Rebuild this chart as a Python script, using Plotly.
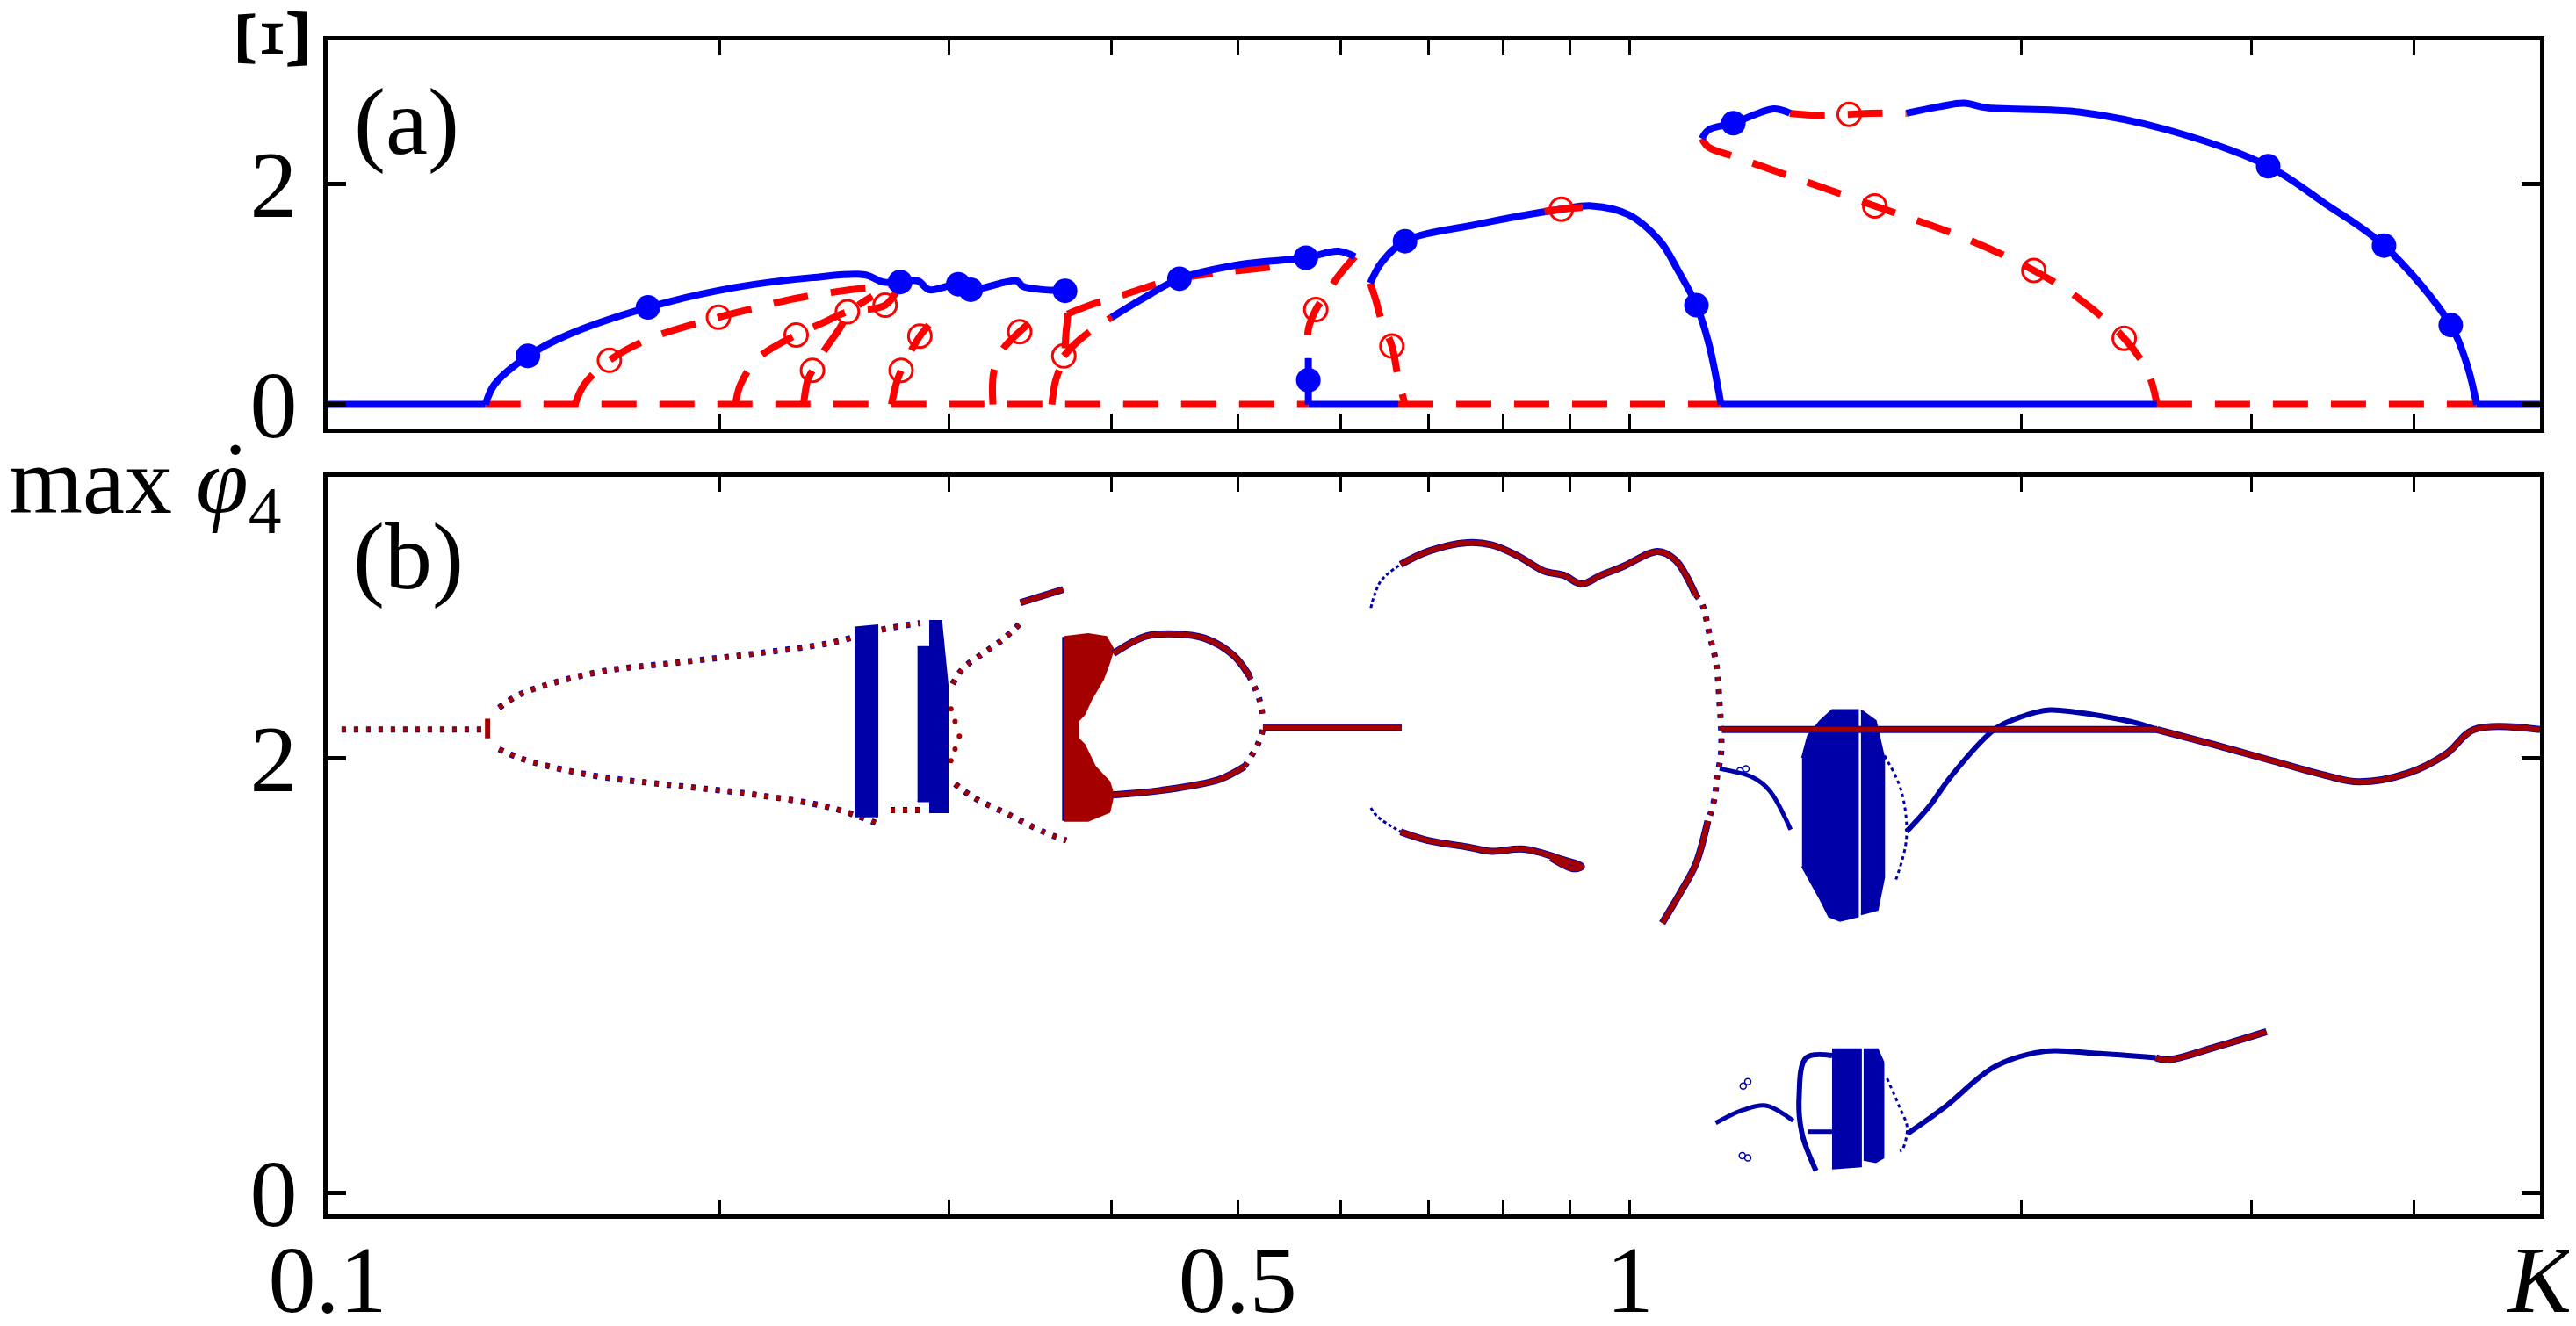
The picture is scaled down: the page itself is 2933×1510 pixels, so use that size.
import plotly.graph_objects as go

BLUE = '#0000ff'; RED = '#ff0000'
DB = '#0000a8'; DR = '#a50000'
FONT = 'Liberation Serif'

# ================= Panel (a): Xi versus K =================
a_stable_base = [[0.1, 0.1322], [0.5664, 0.664], [1.175, 2.54], [4.47, 5.0]]
a_unstable_base = [[0.1322, 0.5664], [0.664, 1.175], [2.54, 4.47]]

# stable branches (blue solid)
a_s1_K = [0.1322, 0.1343, 0.1425, 0.1528, 0.1762, 0.2055, 0.2356, 0.2586, 0.2669, 0.2752]
a_s1_X = [0, 0.18, 0.44, 0.63, 0.88, 1.06, 1.15, 1.175, 1.11, 1.11]
a_s2_K = [0.2752, 0.284, 0.2897, 0.305, 0.3118, 0.3383, 0.342, 0.3673]
a_s2_X = [1.11, 1.12, 1.04, 1.09, 1.04, 1.12, 1.07, 1.03]
a_s3_K = [0.400, 0.4255, 0.451, 0.503, 0.564, 0.597, 0.615]
a_s3_X = [0.79, 0.98, 1.14, 1.27, 1.33, 1.39, 1.34]
a_s4_K = [0.5664, 0.5664]
a_s4_X = [0.42, 0]
a_s5_K = [0.632, 0.645, 0.672, 0.761, 0.886, 0.935, 0.998, 1.055, 1.089, 1.125, 1.150, 1.175]
a_s5_X = [1.10, 1.29, 1.48, 1.63, 1.77, 1.80, 1.72, 1.48, 1.215, 0.90, 0.55, 0]
a_s6_K = [1.136, 1.15, 1.201, 1.290, 1.327]
a_s6_X = [2.41, 2.49, 2.55, 2.68, 2.64]
a_s7_K = [1.631, 1.73, 1.806, 1.88, 2.218, 2.586, 3.092, 3.41, 3.795, 4.27, 4.40, 4.47]
a_s7_X = [2.64, 2.70, 2.73, 2.69, 2.65, 2.49, 2.16, 1.83, 1.44, 0.72, 0.34, 0]

# unstable branches (red dashed)
a_u1_K = [0.1549, 0.1574, 0.1646, 0.177, 0.1996, 0.2123, 0.2285, 0.252, 0.265, 0.275]
a_u1_X = [0, 0.18, 0.40, 0.60, 0.79, 0.87, 0.96, 1.04, 1.07, 1.11]
a_u2_K = [0.2057, 0.2075, 0.2141, 0.229, 0.240, 0.2507, 0.268, 0.275]
a_u2_X = [0, 0.18, 0.42, 0.63, 0.74, 0.84, 0.90, 1.08]
a_u3_K = [0.2320, 0.2337, 0.2357, 0.241, 0.247, 0.252, 0.262]
a_u3_X = [0, 0.22, 0.31, 0.50, 0.68, 0.84, 0.98]
a_u4_K = [0.2710, 0.2735, 0.2757, 0.281, 0.285, 0.2896]
a_u4_X = [0, 0.20, 0.31, 0.50, 0.62, 0.72]
a_u5_K = [0.3243, 0.3247, 0.330, 0.340, 0.346]
a_u5_X = [0, 0.29, 0.50, 0.66, 0.74]
a_u6_K = [0.3599, 0.362, 0.3676, 0.369, 0.370, 0.3684]
a_u6_X = [0, 0.20, 0.44, 0.65, 0.82, 1.0]
a_u7_K = [0.3676, 0.375, 0.387, 0.400]
a_u7_X = [0.44, 0.55, 0.68, 0.79]
a_u8_K = [0.370, 0.385, 0.41, 0.442, 0.48, 0.525, 0.55]
a_u8_X = [0.82, 0.90, 1.00, 1.12, 1.19, 1.24, 1.28]
a_u9_K = [0.615, 0.597, 0.585, 0.574, 0.5664, 0.5664]
a_u9_X = [1.34, 1.16, 1.00, 0.86, 0.68, 0.42]
a_u10_K = [0.632, 0.638, 0.6454, 0.6566, 0.664, 0.672]
a_u10_X = [1.10, 0.95, 0.74, 0.53, 0.24, 0]
a_u11_K = [1.136, 1.15, 1.201, 1.327, 1.542, 1.806, 2.043, 2.218, 2.397, 2.50, 2.54]
a_u11_X = [2.41, 2.33, 2.25, 2.07, 1.80, 1.51, 1.215, 0.95, 0.60, 0.29, 0]
a_u12_K = [1.327, 1.40, 1.474, 1.53, 1.631]
a_u12_X = [2.64, 2.62, 2.63, 2.64, 2.64]
a_u13_K = [0.86, 0.886, 0.92]
a_u13_X = [1.75, 1.77, 1.785]

# bifurcation markers
a_hopf_K = [0.1425, 0.1762, 0.2752, 0.305, 0.3118, 0.3684, 0.451, 0.564, 0.5664, 0.672,
            1.125, 1.201, 3.092, 3.795, 4.27]
a_hopf_X = [0.44, 0.88, 1.11, 1.09, 1.04, 1.03, 1.14, 1.33, 0.22, 1.48,
            0.90, 2.55, 2.16, 1.44, 0.72]
a_uhopf_K = [0.1646, 0.1996, 0.229, 0.2357, 0.2507, 0.268, 0.2757, 0.285, 0.340, 0.3676,
             0.574, 0.6566, 0.886, 1.474, 1.542, 2.043, 2.397]
a_uhopf_X = [0.40, 0.79, 0.63, 0.31, 0.84, 0.90, 0.31, 0.62, 0.66, 0.44,
             0.86, 0.53, 1.77, 2.63, 1.80, 1.215, 0.60]

# ================= Panel (b): max phi_4 versus K =================
b_p1_K = [0.1025, 0.1327]; b_p1_P = [2.13, 2.13]
b_p1v_K = [0.1327, 0.1327]; b_p1v_P = [2.09, 2.18]
b_p2u_K = [0.1354, 0.1403, 0.1481, 0.1633, 0.1867, 0.2133, 0.2438, 0.2664, 0.2852]
b_p2u_P = [2.23, 2.29, 2.34, 2.40, 2.44, 2.48, 2.53, 2.59, 2.62]
b_p2l_K = [0.1354, 0.1403, 0.1481, 0.1633, 0.1867, 0.2133, 0.2438, 0.2664]
b_p2l_P = [2.04, 2.00, 1.96, 1.91, 1.87, 1.83, 1.77, 1.69]
b_p2s_K = [0.2706, 0.2852]; b_p2s_P = [1.76, 1.76]
b_ch1_K = [0.2539, 0.2644, 0.2644, 0.2539]; b_ch1_P = [2.60, 2.61, 1.73, 1.73]
b_ch2_K = [0.2838, 0.2902, 0.2902, 0.2960, 0.2994, 0.2994, 0.2902, 0.2902, 0.2838]
b_ch2_P = [2.51, 2.51, 2.63, 2.63, 2.33, 1.75, 1.75, 1.80, 1.80]
b_p3u_K = [0.302, 0.3074, 0.3186, 0.330, 0.3404]; b_p3u_P = [2.34, 2.41, 2.48, 2.545, 2.62]
b_p3l_K = [0.3033, 0.313, 0.3332, 0.3545, 0.3692]; b_p3l_P = [1.88, 1.82, 1.74, 1.66, 1.62]
b_p3m_K = [0.3011, 0.3033, 0.3056, 0.3033, 0.3011]; b_p3m_P = [2.225, 2.168, 2.10, 2.04, 1.987]
b_p3t_K = [0.3404, 0.3672]; b_p3t_P = [2.714, 2.775]
b_bt_K = [0.3679, 0.3837, 0.3963, 0.4013, 0.3985, 0.394, 0.386, 0.3813, 0.3770, 0.3770,
          0.3813, 0.3885, 0.3985, 0.4013, 0.3985, 0.3837, 0.3679]
b_bt_P = [2.557, 2.57, 2.557, 2.50, 2.44, 2.36, 2.27, 2.20, 2.17, 2.09,
          2.06, 1.96, 1.89, 1.83, 1.75, 1.71, 1.71]
b_lu_K = [0.4013, 0.4252, 0.4482, 0.4717, 0.4966, 0.5099]; b_lu_P = [2.48, 2.56, 2.57, 2.55, 2.47, 2.38]
b_lud_K = [0.5099, 0.5194, 0.5227]; b_lud_P = [2.38, 2.27, 2.18]
b_ll_K = [0.4013, 0.4365, 0.4836, 0.506]; b_ll_P = [1.83, 1.85, 1.90, 1.96]
b_lld_K = [0.506, 0.5178, 0.5227]; b_lld_P = [1.96, 2.06, 2.13]
b_pm_K = [0.5227, 0.668]; b_pm_P = [2.14, 2.14]
b_mub_K = [0.6326, 0.6367, 0.6450, 0.6668]; b_mub_P = [2.69, 2.75, 2.82, 2.89]
b_mu_K = [0.6668, 0.70, 0.7503, 0.7827, 0.82, 0.859, 0.8901, 0.9182, 0.95, 0.9876, 1.051, 1.084, 1.1235]
b_mu_P = [2.89, 2.95, 2.99, 2.98, 2.93, 2.86, 2.84, 2.80, 2.84, 2.88, 2.95, 2.91, 2.75]
b_md_K = [1.1235, 1.136, 1.153, 1.163, 1.168, 1.172, 1.175, 1.175, 1.166, 1.163, 1.153, 1.148]
b_md_P = [2.75, 2.71, 2.55, 2.46, 2.38, 2.25, 2.15, 2.02, 1.90, 1.83, 1.74, 1.71]
b_mt_K = [1.148, 1.1235, 1.096, 1.059]; b_mt_P = [1.71, 1.51, 1.39, 1.24]
b_mlb_K = [0.6326, 0.640, 0.6668]; b_mlb_P = [1.77, 1.73, 1.66]
b_ml_K = [0.6668, 0.70, 0.7503, 0.7827, 0.83, 0.8901, 0.9182, 0.905, 0.87]
b_ml_P = [1.66, 1.62, 1.59, 1.57, 1.58, 1.53, 1.50, 1.49, 1.54]
b_pr_K = [1.177, 2.54]; b_pr_P = [2.13, 2.13]
b_rc_K = [2.54, 2.813, 3.10, 3.42, 3.63, 3.96, 4.24, 4.45, 5.0]
b_rc_P = [2.13, 2.06, 1.99, 1.92, 1.89, 1.93, 2.02, 2.13, 2.13]
b_bu_K = [1.631, 1.70, 1.762, 1.905, 2.00, 2.101, 2.20, 2.317, 2.45, 2.54]
b_bu_P = [1.66, 1.78, 1.91, 2.13, 2.19, 2.22, 2.21, 2.19, 2.16, 2.13]
b_ba_K = [1.5687, 1.6159, 1.631, 1.601]; b_ba_P = [2.01, 1.85, 1.63, 1.44]
b_bl_K = [1.172, 1.243, 1.28, 1.329]; b_bl_P = [1.95, 1.91, 1.85, 1.67]
b_ub1_K = [1.356, 1.37, 1.40, 1.43, 1.497, 1.497, 1.45, 1.422, 1.40, 1.38, 1.356]
b_ub1_P = [2.00, 2.10, 2.17, 2.22, 2.22, 1.27, 1.25, 1.27, 1.35, 1.42, 1.50]
b_ub2_K = [1.505, 1.545, 1.568, 1.568, 1.55, 1.505]
b_ub2_P = [2.22, 2.17, 2.00, 1.45, 1.30, 1.28]
b_lb1_K = [1.43, 1.505, 1.505, 1.43]; b_lb1_P = [0.66, 0.66, 0.12, 0.11]
b_lb2_K = [1.512, 1.55, 1.566, 1.566, 1.545, 1.512]; b_lb2_P = [0.66, 0.66, 0.60, 0.16, 0.14, 0.15]
b_lbr_K = [1.43, 1.366, 1.349, 1.356, 1.39]; b_lbr_P = [0.63, 0.62, 0.44, 0.27, 0.10]
b_lbar_K = [1.37, 1.43]; b_lbar_P = [0.28, 0.28]
b_llc_K = [1.164, 1.222, 1.272, 1.335]; b_llc_P = [0.32, 0.38, 0.40, 0.33]
b_lra_K = [1.576, 1.612, 1.633, 1.62, 1.612]; b_lra_P = [0.525, 0.39, 0.30, 0.20, 0.19]
b_lrc_K = [1.633, 1.743, 1.908, 2.084, 2.277, 2.535]; b_lrc_P = [0.27, 0.39, 0.58, 0.65, 0.64, 0.62]
b_lrr_K = [2.535, 2.587, 2.82, 3.083]; b_lrr_P = [0.62, 0.61, 0.67, 0.74]
b_sc_K = [1.222, 1.232, 1.220, 1.232, 1.215, 1.228]; b_sc_P = [0.49, 0.51, 0.17, 0.16, 1.94, 1.95]

# ---- tick setup ----
x_tickvals = [0.1, 0.2, 0.3, 0.4, 0.5, 0.6, 0.7, 0.8, 0.9, 1, 2, 3, 4, 5]
x_ticktext = ['0.1', '', '', '', '0.5', '', '', '', '', '1', '', '', '', '<i>K</i>']
y_tickvals = [0, 2]

fig = go.Figure()


def add_line(xs, ys, color, width, panel, dash=None, shape='spline'):
    fig.add_trace(go.Scatter(x=xs, y=ys, mode='lines',
                             line=dict(color=color, width=width, dash=dash, shape=shape),
                             xaxis='x' if panel == 1 else 'x2',
                             yaxis='y' if panel == 1 else 'y2',
                             hoverinfo='skip'))


def add_fill(xs, ys, color, panel=2):
    fig.add_trace(go.Scatter(x=xs, y=ys, mode='lines', fill='toself', fillcolor=color,
                             line=dict(color=color, width=2),
                             xaxis='x' if panel == 1 else 'x2',
                             yaxis='y' if panel == 1 else 'y2', hoverinfo='skip'))


def add_markers(xs, ys, symbol, color, size, lw, panel):
    fig.add_trace(go.Scatter(x=xs, y=ys, mode='markers',
                             marker=dict(symbol=symbol, color=color, size=size,
                                         line=dict(color=color, width=lw)),
                             xaxis='x' if panel == 1 else 'x2',
                             yaxis='y' if panel == 1 else 'y2', hoverinfo='skip'))


# ----- panel (a) -----
DASH_A = '40px,26px'
WA = 8
for seg in a_unstable_base:
    add_line(seg, [0, 0], RED, WA, 1, DASH_A, 'linear')
for K, X in [(a_u1_K, a_u1_X), (a_u2_K, a_u2_X), (a_u3_K, a_u3_X), (a_u4_K, a_u4_X),
             (a_u5_K, a_u5_X), (a_u6_K, a_u6_X), (a_u7_K, a_u7_X), (a_u8_K, a_u8_X),
             (a_u9_K, a_u9_X), (a_u10_K, a_u10_X), (a_u11_K, a_u11_X), (a_u12_K, a_u12_X)]:
    add_line(K, X, RED, WA, 1, DASH_A)
for seg in a_stable_base:
    add_line(seg, [0, 0], BLUE, WA, 1, None, 'linear')
for K, X in [(a_s1_K, a_s1_X), (a_s2_K, a_s2_X), (a_s3_K, a_s3_X), (a_s4_K, a_s4_X),
             (a_s5_K, a_s5_X), (a_s6_K, a_s6_X), (a_s7_K, a_s7_X)]:
    add_line(K, X, BLUE, WA, 1)
add_line(a_u13_K, a_u13_X, RED, WA, 1)
add_markers(a_hopf_K, a_hopf_X, 'circle', BLUE, 28, 0, 1)
add_markers(a_uhopf_K, a_uhopf_X, 'circle-open', RED, 26, 3, 1)

# ----- panel (b) -----
DOT = '5px,9px'
WD = 5
WL = 6


def dotted(K, P):
    add_line(K, P, DB, WD + 2, 2, DOT)
    add_line(K, P, DR, WD, 2, DOT)


def dense(K, P):
    add_line(K, P, DB, WL + 2, 2)
    add_line(K, P, DR, WL, 2)


dotted(b_p1_K, b_p1_P)
add_line(b_p1v_K, b_p1v_P, DR, 6, 2, None, 'linear')
dotted(b_p2u_K, b_p2u_P)
dotted(b_p2l_K, b_p2l_P)
dotted(b_p2s_K, b_p2s_P)
add_fill(b_ch1_K, b_ch1_P, DB)
add_fill(b_ch2_K, b_ch2_P, DB)
dotted(b_p3u_K, b_p3u_P)
dotted(b_p3l_K, b_p3l_P)
add_markers(b_p3m_K, b_p3m_P, 'circle', DR, 6, 0, 2)
dense(b_p3t_K, b_p3t_P)
add_line([b_bt_K[0], b_bt_K[-1]], [b_bt_P[0], b_bt_P[-1]], DB, 5, 2, None, 'linear')
add_fill(b_bt_K, b_bt_P, DR)
dense(b_lu_K, b_lu_P)
dotted(b_lud_K, b_lud_P)
dense(b_ll_K, b_ll_P)
dotted(b_lld_K, b_lld_P)
dense(b_pm_K, b_pm_P)
add_line(b_mub_K, b_mub_P, DB, 3, 2, '4px,3px')
dense(b_mu_K, b_mu_P)
dotted(b_md_K, b_md_P)
dense(b_mt_K, b_mt_P)
add_line(b_mlb_K, b_mlb_P, DB, 3, 2, '4px,3px')
dense(b_ml_K, b_ml_P)
# right-hand side
add_line(b_bl_K, b_bl_P, DB, 5, 2)
add_fill(b_ub1_K, b_ub1_P, DB)
add_fill(b_ub2_K, b_ub2_P, DB)
add_line(b_ba_K, b_ba_P, DB, 3, 2, '4px,4px')
add_line(b_bu_K, b_bu_P, DB, 6, 2)
dense(b_pr_K, b_pr_P)
dense(b_rc_K, b_rc_P)
add_fill(b_lb1_K, b_lb1_P, DB)
add_fill(b_lb2_K, b_lb2_P, DB)
add_line(b_lbr_K, b_lbr_P, DB, 6, 2)
add_line(b_lbar_K, b_lbar_P, DB, 5, 2, None, 'linear')
add_line(b_llc_K, b_llc_P, DB, 5, 2)
add_line(b_lra_K, b_lra_P, DB, 3, 2, '4px,4px')
add_line(b_lrc_K, b_lrc_P, DB, 6, 2)
dense(b_lrr_K, b_lrr_P)
add_markers(b_sc_K, b_sc_P, 'circle-open', DB, 7, 1.5, 2)

# ----- layout -----
XDOM = [365 / 2933, 2884 / 2933]
TICKFONT = dict(family=FONT, size=108, color='black')
common_x = dict(type='log', range=[-1, 0.69897], domain=XDOM, showline=True, linewidth=5,
                linecolor='black', mirror='ticks', ticks='inside', ticklen=17, tickwidth=3,
                tickcolor='black', tickvals=x_tickvals, showgrid=False, zeroline=False,
                tickfont=TICKFONT, automargin=False)
common_y = dict(showline=True, linewidth=5, linecolor='black', mirror='ticks', ticks='inside',
                ticklen=21, tickwidth=5, tickcolor='black', tickvals=y_tickvals,
                showgrid=False, zeroline=False, tickfont=TICKFONT, ticklabelstandoff=8,
                automargin=False)


def ann(text, px, py, size=108, xanchor='center', yanchor='middle', angle=0):
    return dict(text=text, x=px / 2933, y=1 - py / 1510, xref='paper', yref='paper',
                xanchor=xanchor, yanchor=yanchor, textangle=angle, showarrow=False,
                font=dict(family=FONT, size=size, color='black'))


fig.update_layout(
    width=2933, height=1510, margin=dict(l=0, r=0, t=0, b=0, autoexpand=False),
    paper_bgcolor='white', plot_bgcolor='white', showlegend=False,
    xaxis=dict(common_x, anchor='y', showticklabels=False),
    yaxis=dict(common_y, anchor='x', range=[-0.218, 3.30], domain=[1 - 480 / 1510, 1 - 38 / 1510]),
    xaxis2=dict(common_x, anchor='y2', ticktext=x_ticktext),
    yaxis2=dict(common_y, anchor='x2', range=[-0.101, 3.293], domain=[1 - 1375 / 1510, 1 - 535 / 1510]),
    annotations=[
        ann('(a)', 455, 131),
        ann('(b)', 457, 626),
        ann('Ξ', 301, 36, size=118, angle=-90),
        ann('max <i>\u03c6</i><sub>4</sub>', 315, 547, xanchor='right'),
        ann('\u02d9', 260, 533),
    ],
)
try:
    fig.layout.xaxis2.ticklabelstandoff = -24
except ValueError:
    pass

fig.write_html("out.html")
